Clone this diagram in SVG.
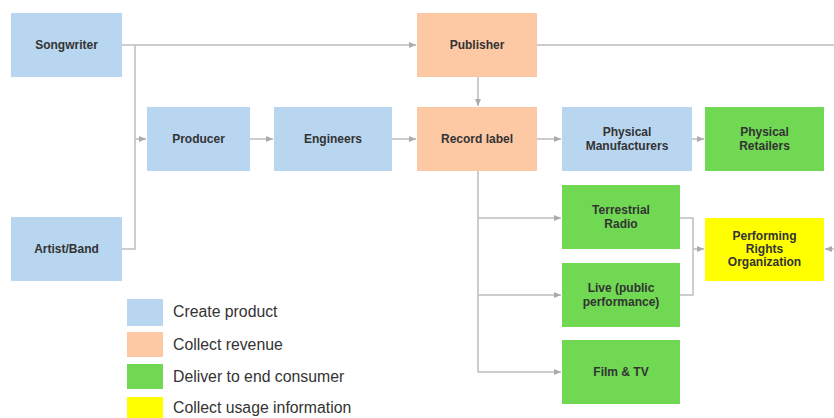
<svg xmlns="http://www.w3.org/2000/svg" width="834" height="418" viewBox="0 0 834 418">
<defs>
<style>
.n{stroke:none}
.b{fill:#b8d6f0}
.o{fill:#fdc9a5}
.g{fill:#70d852}
.y{fill:#ffff00}
.t{font-family:"Liberation Sans",Arial,sans-serif;font-size:12px;font-weight:bold;fill:#333;text-anchor:middle}
.l{font-family:"Liberation Sans",Arial,sans-serif;font-size:15.8px;fill:#333}
.c{fill:none;stroke:#bdbdbd;stroke-width:1.5}
</style>
<marker id="a" markerWidth="8" markerHeight="8" refX="7" refY="4" orient="auto" markerUnits="userSpaceOnUse">
<path d="M0,1 L7,4 L0,7 Z" fill="#aaa"/>
</marker>
</defs>
<rect width="834" height="418" fill="#fff"/>
<g id="connectors">
<path class="c" d="M122,45 H416" marker-end="url(#a)"/>
<path class="c" d="M135,45 V249 H122"/>
<path class="c" d="M135,139 H146" marker-end="url(#a)"/>
<path class="c" d="M250,139 H273" marker-end="url(#a)"/>
<path class="c" d="M392,139 H416" marker-end="url(#a)"/>
<path class="c" d="M537,45 H834"/>
<path class="c" d="M478,77 V106" marker-end="url(#a)"/>
<path class="c" d="M537,139 H561" marker-end="url(#a)"/>
<path class="c" d="M692,139 H704" marker-end="url(#a)"/>
<path class="c" d="M478,171 V372 H561" marker-end="url(#a)"/>
<path class="c" d="M478,218 H561" marker-end="url(#a)"/>
<path class="c" d="M478,295 H561" marker-end="url(#a)"/>
<path class="c" d="M680,218 H693 V295 H680"/>
<path class="c" d="M693,249 H704" marker-end="url(#a)"/>
<path class="c" d="M834,249 H825" marker-end="url(#a)"/>
</g>
<g id="songwriter"><rect class="b" x="11" y="13" width="111" height="64"/><text class="t" x="66.5" y="49">Songwriter</text></g>
<g id="artist"><rect class="b" x="11" y="217" width="111" height="64"/><text class="t" x="66.5" y="253">Artist/Band</text></g>
<g id="producer"><rect class="b" x="147" y="107" width="103" height="64"/><text class="t" x="198.5" y="143">Producer</text></g>
<g id="engineers"><rect class="b" x="274" y="107" width="118" height="64"/><text class="t" x="333" y="143">Engineers</text></g>
<g id="publisher"><rect class="o" x="417" y="13" width="120" height="64"/><text class="t" x="477" y="49">Publisher</text></g>
<g id="recordlabel"><rect class="o" x="417" y="107" width="120" height="64"/><text class="t" x="477" y="143">Record label</text></g>
<g id="manufacturers"><rect class="b" x="562" y="107" width="130" height="64"/><text class="t" x="627" y="136">Physical</text><text class="t" x="627" y="150">Manufacturers</text></g>
<g id="retailers"><rect class="g" x="705" y="107" width="119" height="64"/><text class="t" x="764.5" y="136">Physical</text><text class="t" x="764.5" y="150">Retailers</text></g>
<g id="radio"><rect class="g" x="562" y="185" width="118" height="64"/><text class="t" x="621" y="214">Terrestrial</text><text class="t" x="621" y="228">Radio</text></g>
<g id="live"><rect class="g" x="562" y="263" width="118" height="64"/><text class="t" x="621" y="292">Live (public</text><text class="t" x="621" y="306">performance)</text></g>
<g id="film"><rect class="g" x="562" y="340" width="118" height="64"/><text class="t" x="621" y="376">Film &amp; TV</text></g>
<g id="pro"><rect class="y" x="705" y="218" width="119" height="63"/><text class="t" x="764.5" y="240">Performing</text><text class="t" x="764.5" y="253">Rights</text><text class="t" x="764.5" y="266">Organization</text></g>
<g id="legend">
<rect class="b" x="127" y="299" width="36" height="27"/><text class="l" x="173" y="317">Create product</text>
<rect class="o" x="127" y="332" width="36" height="25"/><text class="l" x="173" y="350">Collect revenue</text>
<rect class="g" x="127" y="364" width="36" height="25"/><text class="l" x="173" y="382">Deliver to end consumer</text>
<rect class="y" x="127" y="397" width="36" height="21"/><text class="l" x="173" y="413">Collect usage information</text>
</g>
</svg>
